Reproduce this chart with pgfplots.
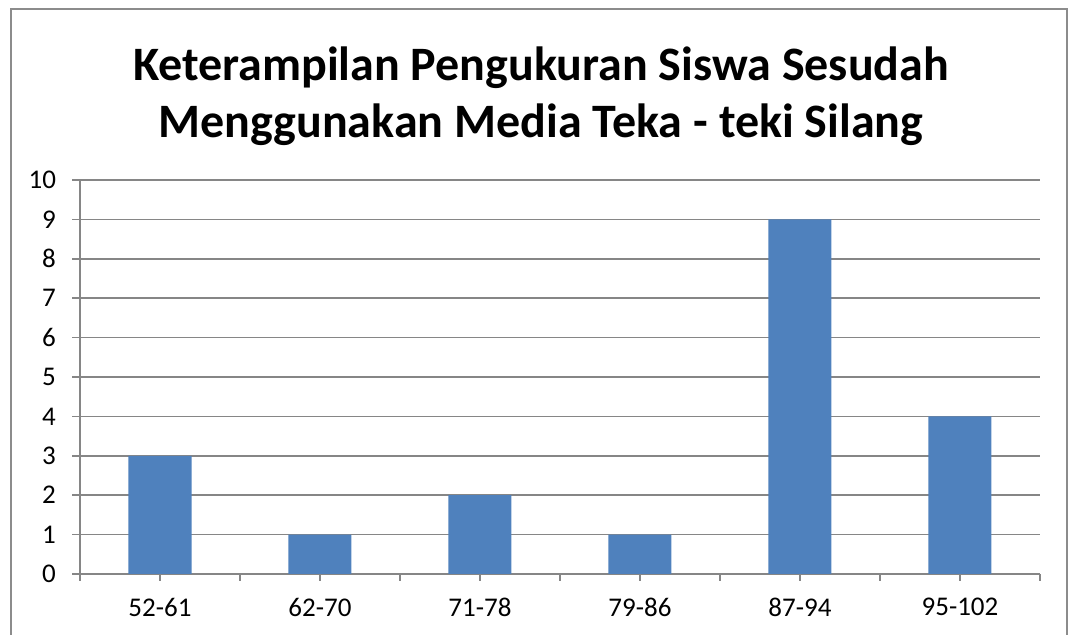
\documentclass[border=0pt]{standalone}
\usepackage{fontspec}
\setmainfont{Carlito}
\usepackage{pgfplots}
\pgfplotsset{compat=1.18}
\definecolor{barblue}{HTML}{4F81BD}
\definecolor{gridgray}{HTML}{868686}
\definecolor{framegray}{HTML}{8C8C8C}
\begin{document}
\begin{tikzpicture}
\useasboundingbox (0,0) rectangle (536pt,317.5pt);
\draw[framegray, line width=1.1pt] (5.5pt,-10pt) -- (5.5pt,313pt) -- (533.5pt,313pt) -- (533.5pt,-10pt);
\node[align=center, font=\fontsize{24}{28.5}\selectfont\bfseries] at (270.5pt,269.5pt)
  {Keterampilan Pengukuran Siswa Sesudah\\Menggunakan Media Teka - teki Silang};
\begin{axis}[
  at={(40pt,30.5pt)}, anchor=south west,
  scale only axis, width=480pt, height=197pt,
  xmin=-0.5, xmax=5.5, ymin=0, ymax=10,
  axis x line=bottom, axis y line=left,
  axis line style={gridgray, line width=0.75pt, -},
  ytick={0,...,10},
  ymajorgrids, grid style={gridgray, line width=0.75pt},
  ytick style={gridgray, line width=0.75pt},
  tick align=outside,
  major tick length=4pt,
  xtick={-0.5,0.5,...,5.5}, xticklabels={},
  xtick style={gridgray, line width=0.75pt, /pgfplots/major tick length=3.5pt},
  extra x ticks={0,1,2,3,4,5},
  extra x tick labels={52-61,62-70,71-78,79-86,87-94,95-102},
  extra x tick style={major tick length=0pt, xticklabel style={yshift=-8.5pt}},
  ticklabel style={font=\fontsize{13.5}{16}\selectfont, text=black},
  yticklabel style={xshift=-4.5pt},
  /pgf/number format/assume math mode=true,
  clip=false,
]
\addplot[ybar, bar width=31.5pt, fill=barblue, draw=none] coordinates {
  (0,3) (1,1) (2,2) (3,1) (4,9) (5,4)
};
\end{axis}
\end{tikzpicture}
\end{document}
